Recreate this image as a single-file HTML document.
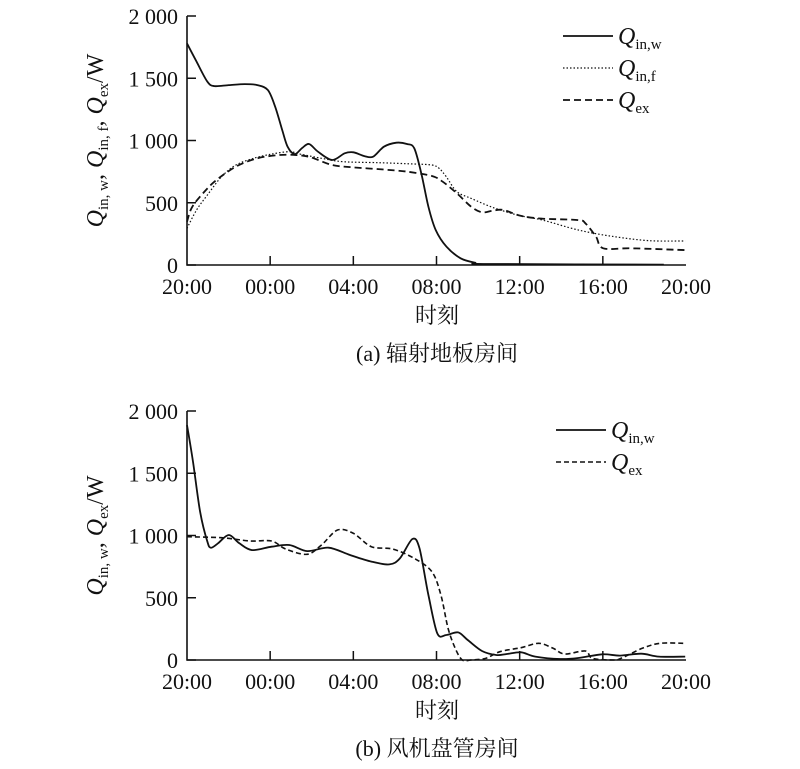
<!DOCTYPE html>
<html><head><meta charset="utf-8">
<style>
body{margin:0;background:#fff;}
svg{display:block;}
text{font-family:"Liberation Serif","Noto Serif CJK SC",serif;fill:#111;}
</style></head>
<body>
<svg id="fig" width="800" height="769" viewBox="0 0 800 769"></svg>
<script>
// ---- data (hours since 20:00, W) ----
const xTickLabels = ["20:00","00:00","04:00","08:00","12:00","16:00","20:00"];
const yTickValues = [0,500,1000,1500,2000];
const yTickLabels = ["0","500","1 000","1 500","2 000"];

const aWinT = [0,0.46,0.98,1.32,2.01,2.78,3.38,3.89,4.24,4.58,4.84,5.18,5.52,5.87,6.30,6.98,7.58,8.01,8.53,8.95,9.47,10.07,10.58,10.93,11.27,11.61,11.96,12.48,13.16,13.84,14.53,22.93];
const aWinV = [1780,1633,1472,1437,1445,1453,1445,1405,1271,1084,950,891,937,972,910,843,897,905,875,870,950,982,972,937,736,468,281,147,54,19,8,3];
const aFinT = [0,0.46,0.98,1.66,2.35,3.20,4.07,4.92,5.44,6.47,7.50,9.21,10.93,11.78,12.13,12.47,12.98,13.67,14.70,15.90,17.10,18.82,20.53,22.25,23.96];
const aFinV = [294,442,562,709,803,857,891,910,891,857,830,822,811,803,776,709,589,535,463,401,361,281,228,195,193];
const aExT = [0,0.21,0.63,1.32,2.35,3.38,4.41,5.27,5.95,6.98,8.01,9.38,10.58,11.78,12.30,12.98,13.67,14.19,14.70,15.22,16.07,17.10,18.82,19.16,19.67,20.02,21.39,23.96];
const aExV = [348,455,549,669,790,857,883,883,865,803,784,768,750,715,669,576,468,423,436,442,394,372,361,335,228,134,134,120];

const bWinT = [0,0.29,0.63,0.98,1.15,1.49,2.01,2.52,3.12,4.07,4.92,5.78,6.81,7.84,8.87,9.73,10.24,10.84,11.18,11.61,12.04,12.47,13.04,13.50,14.19,14.87,15.38,16.07,16.75,17.96,18.82,19.97,20.83,21.85,22.70,23.96];
const bWinV = [1887,1593,1191,950,902,937,1004,937,883,910,924,875,902,843,790,768,816,972,897,522,214,201,222,161,72,40,48,62,27,8,16,46,35,51,27,27];
const bExT = [0,1.66,3.04,4.07,4.75,5.78,6.47,7.24,8.01,8.87,9.90,10.93,11.78,12.21,12.56,12.90,13.24,13.67,14.36,15.05,16.07,16.92,17.61,18.16,19.16,19.50,20.53,20.87,21.90,22.76,23.96];
const bExV = [990,982,956,956,891,849,924,1044,1017,910,891,816,709,522,254,94,0,0,13,67,99,134,94,48,72,13,0,13,94,134,134];

const NS="http://www.w3.org/2000/svg";
const svg=document.getElementById('fig');
function mk(tag,attrs,parent){const e=document.createElementNS(NS,tag);for(const k in attrs)e.setAttribute(k,attrs[k]);(parent||svg).appendChild(e);return e;}

function smoothPath(pts){
  let d="M"+pts[0][0].toFixed(1)+","+pts[0][1].toFixed(1);
  for(let i=0;i<pts.length-1;i++){
    const p0=pts[Math.max(0,i-1)],p1=pts[i],p2=pts[i+1],p3=pts[Math.min(pts.length-1,i+2)];
    const t=0.16;
    const c1=[p1[0]+(p2[0]-p0[0])*t,p1[1]+(p2[1]-p0[1])*t];
    const c2=[p2[0]-(p3[0]-p1[0])*t,p2[1]-(p3[1]-p1[1])*t];
    d+=" C"+c1.map(v=>v.toFixed(1))+" "+c2.map(v=>v.toFixed(1))+" "+p2[0].toFixed(1)+","+p2[1].toFixed(1);
  }
  return d;
}

function panel(cfg){
  const g=mk('g',{});
  
  
  const x0=187,x1=686,yTop=cfg.y0-249,y0=cfg.y0;
  const xs=h=>x0+(x1-x0)*h/24;
  const ys=v=>y0-(y0-yTop)*v/2000;
  const axis=mk('path',{d:`M${x0},${yTop} V${y0} H${x1}`,stroke:'#111','stroke-width':1.6,fill:'none'},g);
  
  
  yTickValues.forEach((v,i)=>{
    const y=ys(v);
    const tk=mk('line',{x1:x0,x2:x0+9,y1:y,y2:y,stroke:'#111','stroke-width':1.5},g);
    
    
    const t=mk('text',{x:178,y:y+8,'text-anchor':'end','font-size':22},g);
    t.textContent=yTickLabels[i];
    
    
  });
  xTickLabels.forEach((lab,i)=>{
    const x=xs(i*4);
    if(i>0&&i<6){const tk=mk('line',{x1:x,x2:x,y1:y0,y2:y0-9,stroke:'#111','stroke-width':1.5},g);
      
      }
    const t=mk('text',{x:x,y:y0+29,'text-anchor':'middle','font-size':22},g);
    t.textContent=lab;
    
    
  });
  cfg.series.forEach(s=>{
    const pts=s.t.map((h,i)=>[xs(h),ys(s.v[i])]);
    const p=mk('path',{d:smoothPath(pts),fill:'none',stroke:'#111','stroke-width':s.w,'stroke-dasharray':s.dash},g);
    
    
  });
  // legend
  cfg.series.forEach((s,i)=>{
    const ly=cfg.legY+i*32;
    const l=mk('line',{x1:cfg.legX,x2:cfg.legX+50,y1:ly,y2:ly,stroke:'#111','stroke-width':s.w,'stroke-dasharray':s.dash},g);
    
    
    const t=mk('text',{x:cfg.legX+55,y:ly+8,'font-size':24},g);
    t.innerHTML=`<tspan font-style="italic">Q</tspan><tspan font-size="15" dy="5">${s.sub}</tspan>`;
    
    
  });
  // y title
  const yt=mk('text',{transform:`translate(103,${(yTop+y0)/2}) rotate(-90)`,'text-anchor':'middle','font-size':24},g);
  yt.innerHTML=cfg.ytitle;
  
  
  const xt=mk('text',{x:437,y:y0+58,'text-anchor':'middle','font-size':22},g);
  xt.textContent='时刻';
  
  
  const cap=mk('text',{x:437,y:y0+96,'text-anchor':'middle','font-size':22},g);
  cap.textContent=cfg.caption;
  
  
}

const sub='<tspan font-size="15" dy="5">';
panel({name:'panel-a',y0:265,legX:563,legY:36,caption:'(a) 辐射地板房间',
  ytitle:`<tspan font-style="italic">Q</tspan>${sub}in, w</tspan><tspan dy="-5">, </tspan><tspan font-style="italic">Q</tspan>${sub}in, f</tspan><tspan dy="-5">, </tspan><tspan font-style="italic">Q</tspan>${sub}ex</tspan><tspan dy="-5">/W</tspan>`,
  series:[{id:'line-qin-w',t:aWinT,v:aWinV,w:1.8,dash:'none',sub:'in,w'},
          {id:'line-qin-f',t:aFinT,v:aFinV,w:1.2,dash:'1.5 2',sub:'in,f'},
          {id:'line-qex',t:aExT,v:aExV,w:1.8,dash:'7 4',sub:'ex'}]});
panel({name:'panel-b',y0:660,legX:556,legY:430,caption:'(b) 风机盘管房间',
  ytitle:`<tspan font-style="italic">Q</tspan>${sub}in, w</tspan><tspan dy="-5">, </tspan><tspan font-style="italic">Q</tspan>${sub}ex</tspan><tspan dy="-5">/W</tspan>`,
  series:[{id:'line-qin-w-b',t:bWinT,v:bWinV,w:1.8,dash:'none',sub:'in,w'},
          {id:'line-qex-b',t:bExT,v:bExV,w:1.6,dash:'5 3',sub:'ex'}]});
</script>
</body></html>
